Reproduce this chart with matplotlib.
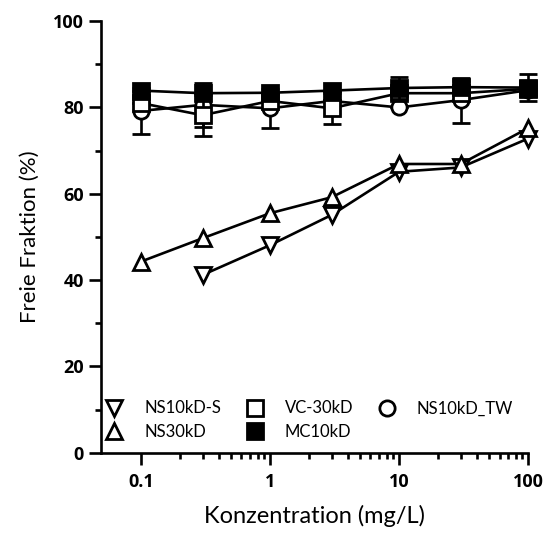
import matplotlib
matplotlib.use("Agg")
import matplotlib.pyplot as plt
from matplotlib.lines import Line2D
from matplotlib.ticker import FixedLocator, NullFormatter

plt.rcParams['font.family'] = ['Lato', 'DejaVu Sans']

# concentrations (mg/L)
conc = [0.1, 0.3, 1, 3, 10, 30, 100]

# free fraction (%) per method
ns10kd_s = [None, 41.2, 48.1, 55.1, 65.1, 66.1, 72.8]
ns30kd = [44.3, 49.7, 55.5, 59.2, 66.9, 66.9, 75.2]
vc30kd = [81.0, 78.2, 81.5, 79.8, 83.3, 83.3, 84.3]
vc30kd_err = [0, 4.7, 0, 3.6, 0, 0, 0]
ns10kd_tw = [79.2, 80.6, 79.8, 81.5, 80.0, 81.7, 84.0]
ns10kd_tw_err = [5.4, 5.1, 4.5, 0, 0, 5.2, 0]
mc10kd = [83.9, 83.3, 83.4, 83.9, 84.5, 84.7, 84.6]
mc10kd_err = [0, 0, 0, 0, 2.6, 1.5, 3.1]

xticks = [0.1, 1, 10, 100]
xticklabels = ['0.1', '1', '10', '100']
yticks = [0, 20, 40, 60, 80, 100]
labels = ['NS10kD-S', 'NS30kD', 'VC-30kD', 'MC10kD', 'NS10kD_TW']

fig = plt.figure(figsize=(5.49, 5.41), dpi=100)
ax = fig.add_axes([0.184, 0.163, 0.778, 0.798])

lw = 1.9
ms = 11
mew = 2.0
style = dict(color='black', lw=lw, ms=ms, mew=mew, mec='black', clip_on=False)
ebar = dict(ecolor='black', elinewidth=lw, capsize=6.5, capthick=lw)

x_s = [c for c, v in zip(conc, ns10kd_s) if v is not None]
y_s = [v for v in ns10kd_s if v is not None]
ax.plot(x_s, y_s, marker='v', mfc='white', zorder=3, **style)
ax.plot(conc, ns30kd, marker='^', mfc='white', zorder=3, **style)
ax.errorbar(conc, ns10kd_tw, yerr=ns10kd_tw_err, marker='o', mfc='white',
            zorder=3, **style, **ebar)
ax.errorbar(conc, vc30kd, yerr=vc30kd_err, marker='s', mfc='white',
            zorder=4, **style, **ebar)
ax.errorbar(conc, mc10kd, yerr=mc10kd_err, marker='s', mfc='black',
            zorder=5, **style, **ebar)

ax.set_xscale('log')
ax.set_xlim(0.049, 100)
ax.set_ylim(0, 100)

tickfont = dict(family=['Open Sans', 'DejaVu Sans'], fontweight='bold', fontsize=13)
ax.xaxis.set_major_locator(FixedLocator(xticks))
ax.set_xticklabels(xticklabels, **tickfont)
minors = [m * d for d in [0.1, 1, 10] for m in range(2, 10)]
ax.xaxis.set_minor_locator(FixedLocator(minors))
ax.xaxis.set_minor_formatter(NullFormatter())
ax.set_yticks(yticks)
ax.set_yticklabels([str(v) for v in yticks], **tickfont)
ax.set_yticks([10, 30, 50, 70, 90], minor=True)

for s in ['top', 'right']:
    ax.spines[s].set_visible(False)
for s in ['left', 'bottom']:
    ax.spines[s].set_linewidth(lw)

ax.tick_params(which='major', length=8.5, width=lw, direction='out')
ax.tick_params(which='minor', length=4, width=lw, direction='out')
ax.tick_params(axis='x', which='major', pad=6)
ax.tick_params(axis='y', which='major', pad=4)

ax.set_xlabel('Konzentration (mg/L)', fontsize=17, labelpad=10)
ax.set_ylabel('Freie Fraktion (%)', fontsize=16, labelpad=9)

hs = dict(color='black', ls='none', ms=ms, mew=mew, mec='black')
handles = [
    Line2D([], [], marker='v', mfc='white', **hs),
    Line2D([], [], marker='^', mfc='white', **hs),
    Line2D([], [], marker='s', mfc='white', **hs),
    Line2D([], [], marker='s', mfc='black', **hs),
    Line2D([], [], marker='o', mfc='white', **hs),
]
ax.legend(handles, labels, ncol=3, loc='lower left',
          bbox_to_anchor=(0.012, 0.03), frameon=False, fontsize=12,
          handlelength=1.0, handletextpad=1.3, columnspacing=1.5,
          labelspacing=0.45, borderpad=0, borderaxespad=0)

fig.savefig('out.png', dpi=100)
